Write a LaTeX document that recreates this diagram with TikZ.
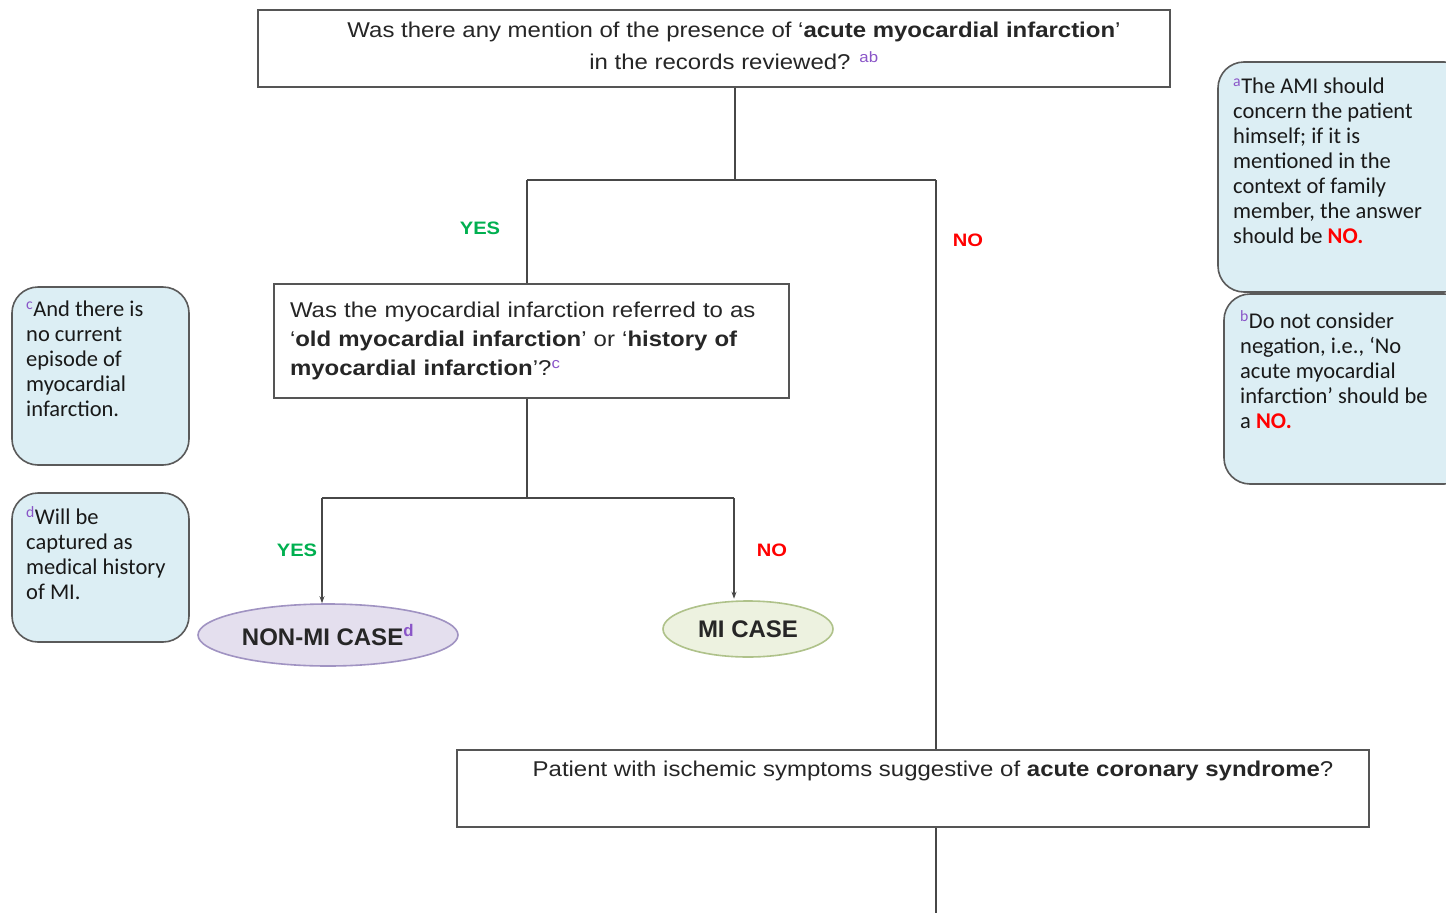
\documentclass[tikz,border=0pt]{standalone}
\usepackage{fontspec}
\setmainfont{Liberation Sans}
\newfontfamily\boxfont[FakeStretch=1.12]{Liberation Sans}
\newfontfamily\notefont{Carlito}
\usetikzlibrary{arrows.meta,shapes.geometric}

\definecolor{linegray}{HTML}{474747}
\definecolor{boxedge}{HTML}{555555}
\definecolor{notefill}{HTML}{DCEEF4}
\definecolor{noteedge}{HTML}{5A5A5A}
\definecolor{nonmifill}{HTML}{E4DFEE}
\definecolor{nonmiedge}{HTML}{A093C2}
\definecolor{mifill}{HTML}{EDF2E0}
\definecolor{miedge}{HTML}{AFC28A}
\definecolor{yesgreen}{HTML}{00B050}
\definecolor{nored}{HTML}{FF0000}
\definecolor{supcol}{HTML}{8A55C8}

\newcommand\fnmark[1]{\textsuperscript{\textcolor{supcol}{#1}}}
\newcommand\rno{\textcolor{nored}{\textbf{NO.}}}

\begin{document}
\begin{tikzpicture}[x=1pt,y=-1pt,
  qbox/.style={draw=boxedge, line width=2pt, fill=white, rectangle, inner sep=0pt},
  qtext/.style={font=\boxfont\fontsize{21.4}{32}\selectfont, text=black!85},
  note/.style={draw=noteedge, line width=1.6pt, fill=notefill, rectangle, rounded corners=26pt, inner sep=0pt},
  notetext/.style={font=\notefont\fontsize{22.5}{25}\selectfont, text=black!90, align=left, anchor=north west, inner sep=0pt},
  conn/.style={draw=linegray, line width=1.5pt},
  arr/.style={conn, -{Stealth[length=7pt,width=5pt]}},
  yeslab/.style={font=\boxfont\bfseries\fontsize{18}{20}\selectfont, text=yesgreen},
  nolab/.style={font=\boxfont\bfseries\fontsize{18}{20}\selectfont, text=nored},
  casetext/.style={font=\bfseries\fontsize{24}{26}\selectfont, text=black!85}
]
\clip (0,0) rectangle (1446,913);
\fill[white] (0,0) rectangle (1446,913);

% question boxes
\node[qbox, minimum width=912pt, minimum height=77pt] (q1) at (714,48.5) {};
\node[qtext, align=center, inner sep=0pt] (q1t) at (734,46)
  {Was there any mention of the presence of ‘\textbf{acute myocardial infarction}’\\
   in the records reviewed? \fnmark{ab}};

\node[qbox, qtext, font=\boxfont\fontsize{21.4}{29}\selectfont, minimum width=515pt, minimum height=114pt,
      text width=483pt, inner xsep=16pt, align=left] (q2) at (531.5,341)
  {Was the myocardial infarction referred to as\\
   ‘\textbf{old myocardial infarction}’ or ‘\textbf{history of}\\
   \textbf{myocardial infarction}’?\fnmark{c}};

\node[qbox, minimum width=912pt, minimum height=77pt] (q3) at (913,788.5) {};
\node[qtext, inner sep=0pt] (q3t) at (933,771)
  {Patient with ischemic symptoms suggestive of \textbf{acute coronary syndrome}?};

% outcome ellipses
\node[ellipse, draw=nonmiedge, fill=nonmifill, line width=1.6pt, inner sep=0pt,
      minimum width=260pt, minimum height=62pt, casetext] (nonmi) at (328,635)
  {NON-MI CASE\fnmark{d}};
\node[ellipse, draw=miedge, fill=mifill, line width=1.6pt, inner sep=0pt,
      minimum width=170pt, minimum height=56pt, casetext] (mi) at (748,629)
  {MI CASE};

% branch points
\coordinate (s1) at (735,180);
\coordinate (s2) at (527,498);
\coordinate (yx) at (527,0);
\coordinate (nx) at (936,0);
\coordinate (ax) at (322,0);
\coordinate (bx) at (734,0);

% first split
\draw[conn] (q1.south -| s1) -- (s1);
\draw[conn] (s1 -| yx) -- (s1 -| nx);
\draw[conn] (s1 -| yx) -- (q2.north -| yx);
\draw[conn] (s1 -| nx) -- (q3.north -| nx);

% second split
\draw[conn] (q2.south -| s2) -- (s2);
\draw[conn] (s2 -| ax) -- (s2 -| bx);
\draw[arr] (s2 -| ax) -- (ax |- nonmi.north);
\draw[arr] (s2 -| bx) -- ([yshift=1.5pt]bx |- mi.north);

% continuation below the last box
\coordinate (bot) at (936,913);
\draw[conn] (q3.south -| bot) -- (bot);

% branch labels
\node[yeslab] (y1) at (480,228) {YES};
\node[nolab]  (n1) at (968,240) {NO};
\node[yeslab] (y2) at (297,550) {YES};
\node[nolab]  (n2) at (772,550) {NO};

% footnote boxes
\node[note, minimum width=252pt, minimum height=230pt] (na) at (1344,177) {};
\node[notetext] (nat) at (1233,78)
  {\fnmark{a}The AMI should\\concern the patient\\himself; if it is\\mentioned in the\\context of family\\member, the answer\\should be \rno};

\node[note, minimum width=246pt, minimum height=190pt] (nb) at (1347,389) {};
\node[notetext] (nbt) at (1240,310)
  {\fnmark{b}Do not consider\\negation, i.e., ‘No\\acute myocardial\\infarction’ should be\\a \rno};

\node[note, minimum width=177pt, minimum height=178pt] (nc) at (100.5,376) {};
\node[notetext] (nct) at (26,301)
  {\fnmark{c}And there is\\no current\\episode of\\myocardial\\infarction.};

\node[note, minimum width=177pt, minimum height=149pt] (nd) at (100.5,567.5) {};
\node[notetext] (ndt) at (26,506)
  {\fnmark{d}Will be\\captured as\\medical history\\of MI.};
\end{tikzpicture}
\end{document}
